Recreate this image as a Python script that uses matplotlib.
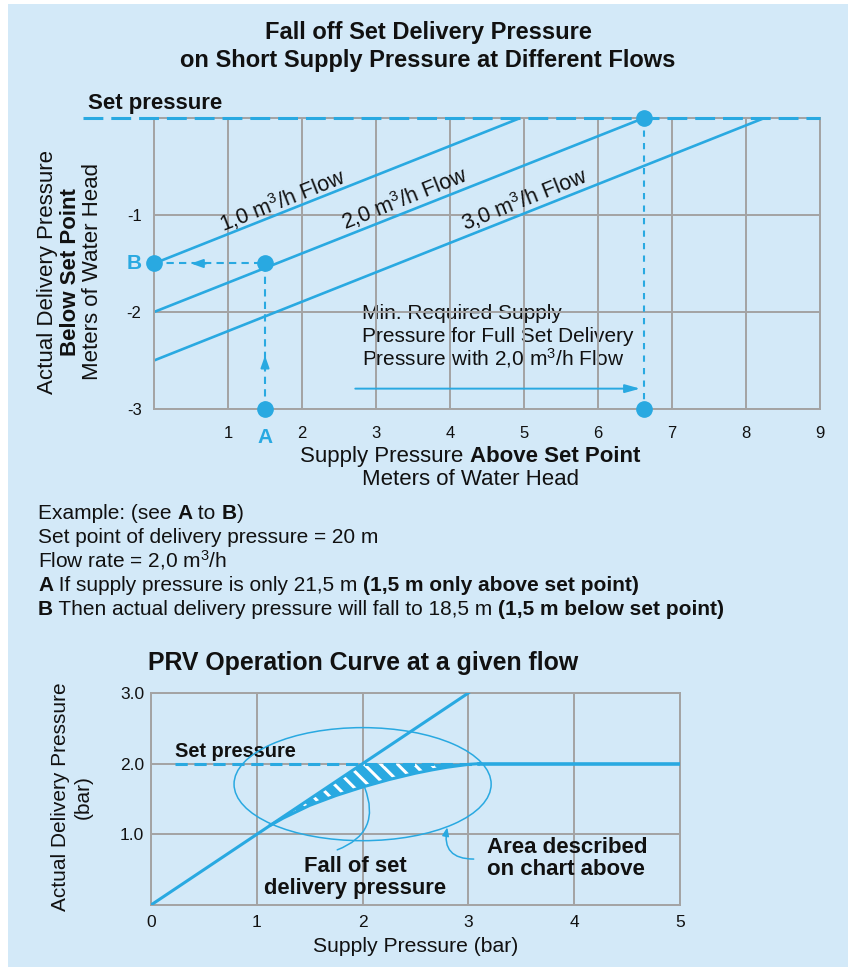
import matplotlib
matplotlib.use('Agg')
import matplotlib.pyplot as plt
from matplotlib.patches import Ellipse, Rectangle
from matplotlib.transforms import IdentityTransform
import numpy as np

plt.rcParams['font.family'] = ['Liberation Sans', 'DejaVu Sans']
plt.rcParams['mathtext.fontset'] = 'custom'
plt.rcParams['mathtext.rm'] = 'Liberation Sans'
plt.rcParams['mathtext.it'] = 'Liberation Sans:italic'
plt.rcParams['mathtext.bf'] = 'Liberation Sans:bold'
plt.rcParams['hatch.linewidth'] = 2.2

W, H = 848, 967
BG = '#d3e9f8'
BLUE = '#29a9e1'
GRID = '#a3a3a3'
INK = '#111111'

# --- upper chart: fall of delivery pressure per flow ---
flow_labels = ['1,0 m$^3$/h Flow', '2,0 m$^3$/h Flow', '3,0 m$^3$/h Flow']
flow_start = [-1.5, -2.0, -2.5]     # delivery below set point at 0 supply
flow_full = [4.95, 6.62, 8.25]      # supply above set point where set pressure is reached
label_x = [1.74, 3.38, 5.01]
label_y = [-0.85, -0.83, -0.84]
supply_a = 1.5
delivery_b = -1.5
min_supply = 6.62
top_xticks = [1, 2, 3, 4, 5, 6, 7, 8, 9]
top_yticks = [-1, -2, -3]

# --- lower chart: PRV operation curve ---
diag_x = [0, 3]
diag_y = [0, 3]
curve_x = [1.13, 1.25, 1.5, 1.75, 2.0, 2.25, 2.5, 2.65, 2.8, 3.0, 3.1]
curve_y = [1.13, 1.23, 1.41, 1.55, 1.67, 1.775, 1.865, 1.91, 1.95, 1.99, 2.0]
set_bar = 2.0
flat_x = [3.1, 5.0]
bot_xticks = [0, 1, 2, 3, 4, 5]
bot_yticks = [1.0, 2.0, 3.0]

fig = plt.figure(figsize=(W / 100, H / 100), dpi=100)
fig.patch.set_facecolor('white')
fig.patches.append(Rectangle((8 / W, 0), 1 - 8 / W, 1 - 4 / H, transform=fig.transFigure,
                             facecolor=BG, edgecolor='none', zorder=-10))


def px_axes(left, top, right, bottom, tick_size):
    ax = fig.add_axes([left / W, 1 - bottom / H, (right - left) / W, (bottom - top) / H])
    ax.set_facecolor(BG)
    for s in ax.spines.values():
        s.set_color(GRID)
        s.set_linewidth(1.4)
    ax.grid(True, color=GRID, lw=1.4)
    ax.set_axisbelow(True)
    ax.tick_params(length=0, labelsize=tick_size, colors=INK)
    return ax


def rich(x, y, parts, size, ha='left', color=INK):
    # runs of normal / bold text side by side on one baseline (pixel coords, y from top)
    r = fig.canvas.get_renderer()
    items = []
    for s, bold in parts:
        t = fig.text(0, 0, s, fontsize=size, fontweight='bold' if bold else 'normal',
                     va='baseline', color=color, transform=IdentityTransform())
        items.append((t, t.get_window_extent(r).width))
    total = sum(w for _, w in items)
    cx = x - total / 2 if ha == 'center' else x
    for t, w in items:
        t.set_position((cx, H - y))
        cx += w


def ftext(x, y, s, **kw):
    return fig.text(x / W, 1 - y / H, s, **kw)


# titles
ftext(428, 33, 'Fall off Set Delivery Pressure', fontsize=17, fontweight='bold', ha='center', va='center', color=INK)
ftext(428, 60, 'on Short Supply Pressure at Different Flows', fontsize=17, fontweight='bold', ha='center', va='center', color=INK)

ax1 = px_axes(154, 118, 820, 409, 12)
ax1.set_xlim(0, 9)
ax1.set_ylim(-3, 0)
ax1.set_xticks(top_xticks)
ax1.set_yticks(top_yticks)
ax1.set_yticklabels([str(v) for v in top_yticks])
ax1.tick_params(axis='x', pad=12)
ax1.tick_params(axis='y', pad=9)

for s0, xf in zip(flow_start, flow_full):
    ax1.plot([0, xf], [s0, 0], color=BLUE, lw=1.9, solid_capstyle='butt')
for lab, lx, ly in zip(flow_labels, label_x, label_y):
    ax1.text(lx, ly, lab, fontsize=15.5, rotation=21.7, rotation_mode='anchor',
             ha='center', va='center', color=INK)

ax1.plot([-0.96, 9], [0, 0], color=BLUE, lw=2.2, ls=(0, (6.5, 2.6)), clip_on=False, zorder=4)
ax1.text(-0.89, 0.093, 'Set pressure', fontsize=16, fontweight='bold', color=INK, va='baseline')

ax1.plot([supply_a, supply_a], [-3, delivery_b], color=BLUE, lw=1.5, ls=(0, (3.5, 2.5)))
ax1.plot([0, supply_a], [delivery_b, delivery_b], color=BLUE, lw=1.5, ls=(0, (3.5, 2.5)))
ax1.plot([min_supply, min_supply], [0, -3], color=BLUE, lw=1.5, ls=(0, (3, 3)))
head = '-|>,head_length=0.7,head_width=0.25'
ax1.annotate('', xy=(supply_a, -2.45), xytext=(supply_a, -2.6),
             arrowprops=dict(arrowstyle=head, color=BLUE, lw=1.5, shrinkA=0, shrinkB=0))
ax1.annotate('', xy=(0.5, delivery_b), xytext=(0.7, delivery_b),
             arrowprops=dict(arrowstyle=head, color=BLUE, lw=1.5, shrinkA=0, shrinkB=0))
ax1.annotate('', xy=(min_supply - 0.05, -2.79), xytext=(2.72, -2.79),
             arrowprops=dict(arrowstyle='-|>,head_length=0.9,head_width=0.25', color=BLUE, lw=1.4,
                             shrinkA=0, shrinkB=0))

ax1.plot([0, supply_a, supply_a, min_supply, min_supply],
         [delivery_b, delivery_b, -3, 0, -3], 'o', color=BLUE, ms=11, clip_on=False, zorder=6)

for i, line in enumerate(['Min. Required Supply', 'Pressure for Full Set Delivery',
                          'Pressure with 2,0 m$^3$/h Flow']):
    ax1.text(2.81, -2.075 - i * 0.237, line, fontsize=15, color=INK, va='baseline', zorder=0)

ax1.annotate('A', xy=(supply_a, -3), xytext=(0, -14), textcoords='offset points',
             ha='center', va='top', fontsize=15, fontweight='bold', color=BLUE, annotation_clip=False)
ax1.annotate('B', xy=(0, delivery_b), xytext=(-9, 0), textcoords='offset points',
             ha='right', va='center', fontsize=15, fontweight='bold', color=BLUE, annotation_clip=False)

ftext(48, 272, 'Actual Delivery Pressure', rotation=90, fontsize=16, ha='center', va='center', color=INK)
ftext(70, 272, 'Below Set Point', rotation=90, fontsize=16, fontweight='bold', ha='center', va='center', color=INK)
ftext(93, 272, 'Meters of Water Head', rotation=90, fontsize=16, ha='center', va='center', color=INK)

rich(470, 462, [('Supply Pressure ', False), ('Above Set Point', True)], 16, ha='center')
rich(470, 485, [('Meters of Water Head', False)], 16, ha='center')

# example text block
rich(38, 519, [('Example: (see ', False), ('A', True), (' to ', False), ('B', True), (')', False)], 15)
rich(38, 543, [('Set point of delivery pressure = 20 m', False)], 15)
rich(38, 567, [('Flow rate = 2,0 m$^3$/h', False)], 15)
rich(38, 591, [('A', True), (' If supply pressure is only 21,5 m ', False),
               ('(1,5 m only above set point)', True)], 15)
rich(38, 615, [('B', True), (' Then actual delivery pressure will fall to 18,5 m ', False),
               ('(1,5 m below set point)', True)], 15)

# lower chart
ftext(148, 663, 'PRV Operation Curve at a given flow', fontsize=17.9, fontweight='bold', va='center', color=INK)

ax2 = px_axes(151, 693, 680, 905, 12.5)
ax2.set_xlim(0, 5)
ax2.set_ylim(0, 3)
ax2.set_xticks(bot_xticks)
ax2.set_yticks(bot_yticks)
ax2.set_yticklabels([f'{v:.1f}' for v in bot_yticks])
ax2.tick_params(axis='x', pad=7)
ax2.tick_params(axis='y', pad=5)

upper = np.minimum(curve_x, set_bar)
ax2.fill_between(curve_x, curve_y, upper, facecolor=BLUE, edgecolor='white',
                 hatch='\\\\', linewidth=0, zorder=2)
ax2.plot(diag_x, diag_y, color=BLUE, lw=2.2, zorder=3)
ax2.plot(curve_x, curve_y, color=BLUE, lw=2.2, zorder=3)
ax2.plot(flat_x, [set_bar, set_bar], color=BLUE, lw=2.6, zorder=3)
ax2.plot([0.23, 3.1], [set_bar, set_bar], color=BLUE, lw=2.2, ls=(0, (4, 2.2)), zorder=3)
ax2.text(0.23, 2.1, 'Set pressure', fontsize=14.4, fontweight='bold', color=INK)

ax2.add_patch(Ellipse((2.0, 1.71), 2.43, 1.6, fill=False, edgecolor=BLUE, lw=1.1, zorder=3))
ax2.annotate('', xy=(2.02, 1.66), xytext=(1.76, 0.78),
             arrowprops=dict(arrowstyle='-', color=BLUE, lw=1.1, connectionstyle='arc3,rad=0.5',
                             shrinkA=0, shrinkB=0))
ax2.annotate('', xy=(2.8, 1.1), xytext=(3.05, 0.65),
             arrowprops=dict(arrowstyle='-|>,head_length=0.5,head_width=0.2', color=BLUE, lw=1.1,
                             connectionstyle='arc3,rad=-0.6', shrinkA=0, shrinkB=0))

ax2.text(1.93, 0.55, 'Fall of set', fontsize=15.8, fontweight='bold', ha='center', va='center', color=INK)
ax2.text(1.93, 0.23, 'delivery pressure', fontsize=15.8, fontweight='bold', ha='center', va='center', color=INK)
ax2.text(3.18, 0.82, 'Area described', fontsize=16, fontweight='bold', va='center', color=INK)
ax2.text(3.18, 0.50, 'on chart above', fontsize=16, fontweight='bold', va='center', color=INK)

ftext(60, 797, 'Actual Delivery Pressure', rotation=90, fontsize=15, ha='center', va='center', color=INK)
ftext(83, 797, '(bar)', rotation=90, fontsize=15, ha='center', va='center', color=INK)
ftext(416, 946, 'Supply Pressure (bar)', fontsize=15.2, ha='center', va='center', color=INK)

fig.savefig('out.png', dpi=100, facecolor=fig.get_facecolor())
